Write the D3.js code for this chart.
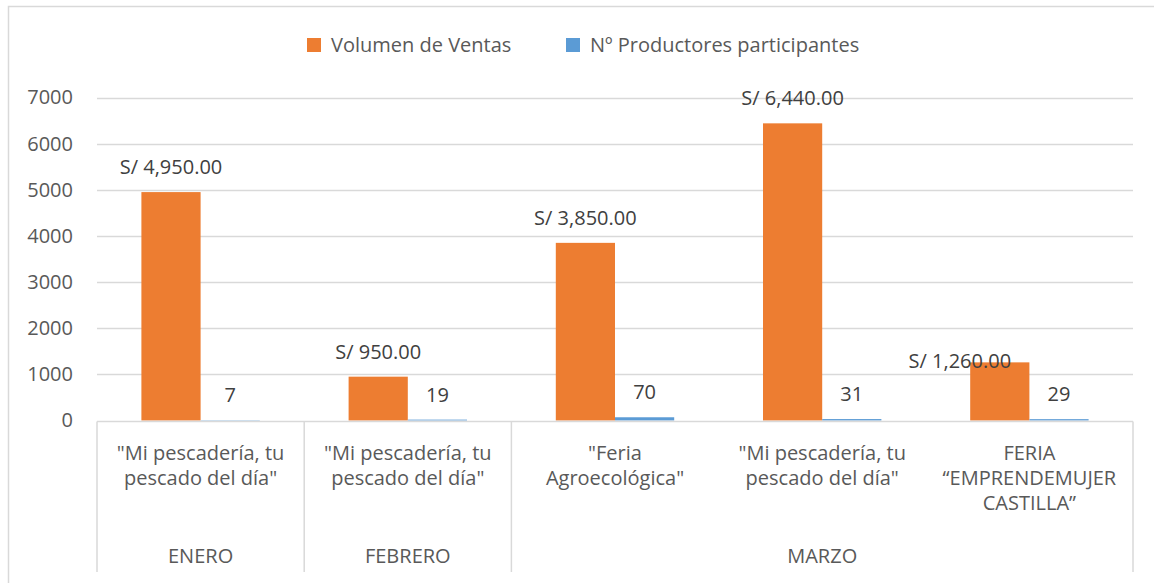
<!DOCTYPE html>
<html>
<head>
<meta charset="utf-8">
<script src="https://cdn.jsdelivr.net/npm/d3@7"></script>
<style>
  html, body { margin: 0; padding: 0; background: #fff; }
  svg { display: block; font-family: "Open Sans", sans-serif; }
</style>
</head>
<body>
<div id="chart"></div>
<script>
// datos
const categoryLines = [
  ['"Mi pescadería, tu', 'pescado del día"'],
  ['"Mi pescadería, tu', 'pescado del día"'],
  ['"Feria', 'Agroecológica"'],
  ['"Mi pescadería, tu', 'pescado del día"'],
  ['FERIA', '“EMPRENDEMUJER', 'CASTILLA”']
];
const months = ["ENERO", "FEBRERO", "MARZO"];
const monthSpans = [1, 1, 3];
const ventas = [4950, 950, 3850, 6440, 1260];
const productores = [7, 19, 70, 31, 29];
const seriesNames = ["Volumen de Ventas", "Nº Productores participantes"];
const yTicks = [0, 1000, 2000, 3000, 4000, 5000, 6000, 7000];

const width = 1154, height = 583;
const margin = { left: 97, right: 21, top: 97.5, bottom: 162.5 };
const colors = ["#ED7D31", "#5B9BD5"];
const textColor = "#595959";
const gridColor = "#d9d9d9";

const svg = d3.select("#chart").append("svg")
  .attr("width", width)
  .attr("height", height);

// marco del gráfico
svg.append("rect")
  .attr("x", 8.5).attr("y", 6.5)
  .attr("width", 1200).attr("height", 700)
  .attr("fill", "none")
  .attr("stroke", gridColor)
  .attr("stroke-width", 1.5);

const idx = d3.range(ventas.length);
const x0 = d3.scaleBand().domain(idx).range([margin.left, width - margin.right]).padding(0);
const bw = x0.bandwidth() / 3.5; // gap width 150%
const x1 = d3.scaleBand().domain([0, 1]).range([bw * 0.75, bw * 2.75]).padding(0);
const y = d3.scaleLinear().domain([0, 7000]).range([height - margin.bottom, margin.top]);

// líneas de cuadrícula
svg.append("g")
  .selectAll("line")
  .data(yTicks.slice(1))
  .join("line")
  .attr("x1", margin.left).attr("x2", width - margin.right)
  .attr("y1", d => Math.round(y(d)) + 0.5).attr("y2", d => Math.round(y(d)) + 0.5)
  .attr("stroke", gridColor)
  .attr("stroke-width", 1.5);

// eje Y
const yAxis = svg.append("g")
  .attr("transform", `translate(${margin.left - 24},0)`)
  .call(d3.axisLeft(y).tickValues(yTicks).tickSize(0).tickPadding(0).tickFormat(d3.format("d")));
yAxis.select(".domain").remove();
yAxis.selectAll("text")
  .attr("fill", textColor)
  .style("font-size", "20px")
  .style("font-family", "'Open Sans', sans-serif");

// barras
const groups = svg.append("g")
  .selectAll("g")
  .data(idx)
  .join("g")
  .attr("transform", i => `translate(${x0(i)},0)`);

groups.selectAll("rect")
  .data(i => [ventas[i], productores[i]].map((v, s) => ({ v, s })))
  .join("rect")
  .attr("x", d => x1(d.s))
  .attr("width", x1.bandwidth())
  .attr("y", d => y(d.v))
  .attr("height", d => y(0) - y(d.v))
  .attr("fill", d => colors[d.s]);

// etiquetas de datos
const fmt = d3.format(",.2f");
const labelShift = { 4: { dx: -40, dy: 24 } }; // etiqueta movida a mano en el original
groups.selectAll("text")
  .data(i => [ventas[i], productores[i]].map((v, s) => ({ v, s, i })))
  .join("text")
  .attr("x", d => x1(d.s) + x1.bandwidth() / 2 + (d.s === 0 && labelShift[d.i] ? labelShift[d.i].dx : 0))
  .attr("y", d => y(d.v) - 25 + (d.s === 0 && labelShift[d.i] ? labelShift[d.i].dy : 0))
  .attr("dy", "0.35em")
  .attr("text-anchor", "middle")
  .attr("fill", "#404040")
  .style("font-size", "20px")
  .text(d => d.s === 0 ? "S/ " + fmt(d.v) : d.v);

// eje de categorías (dos niveles)
const axisY = Math.round(y(0)) + 0.5;
const axisBottom = 572;
svg.append("line")
  .attr("x1", margin.left).attr("x2", width - margin.right)
  .attr("y1", axisY).attr("y2", axisY)
  .attr("stroke", gridColor).attr("stroke-width", 1.5);

let start = 0;
const monthBounds = months.map((m, k) => {
  const b = { name: m, from: start, to: start + monthSpans[k] };
  start += monthSpans[k];
  return b;
});
const sepX = [0].concat(monthBounds.map(b => b.to));
svg.append("g")
  .selectAll("line")
  .data(sepX)
  .join("line")
  .attr("x1", k => k < idx.length ? x0(k) : x0(idx.length - 1) + x0.bandwidth())
  .attr("x2", k => k < idx.length ? x0(k) : x0(idx.length - 1) + x0.bandwidth())
  .attr("y1", axisY).attr("y2", axisBottom)
  .attr("stroke", gridColor).attr("stroke-width", 1.5);

svg.append("g")
  .selectAll("text")
  .data(idx)
  .join("text")
  .attr("x", i => x0(i) + x0.bandwidth() / 2)
  .attr("y", 453)
  .attr("text-anchor", "middle")
  .attr("fill", textColor)
  .style("font-size", "20px")
  .each(function(i) {
    d3.select(this).selectAll("tspan")
      .data(categoryLines[i])
      .join("tspan")
      .attr("x", x0(i) + x0.bandwidth() / 2)
      .attr("dy", (d, j) => j === 0 ? "0.35em" : "25px")
      .text(d => d);
  });

svg.append("g")
  .selectAll("text")
  .data(monthBounds)
  .join("text")
  .attr("x", b => (x0(b.from) + x0(b.to - 1) + x0.bandwidth()) / 2)
  .attr("y", 556)
  .attr("dy", "0.35em")
  .attr("text-anchor", "middle")
  .attr("fill", textColor)
  .style("font-size", "20px")
  .text(b => b.name);

// leyenda
const legendX = [307, 566];
const legend = svg.append("g")
  .selectAll("g")
  .data(seriesNames)
  .join("g")
  .attr("transform", (d, k) => `translate(${legendX[k]},45)`);
legend.append("rect")
  .attr("x", 0).attr("y", -7)
  .attr("width", 14).attr("height", 14)
  .attr("fill", (d, k) => colors[k]);
legend.append("text")
  .attr("x", 24)
  .attr("dy", "0.35em")
  .attr("fill", textColor)
  .style("font-size", "20px")
  .text(d => d);
</script>
</body>
</html>
